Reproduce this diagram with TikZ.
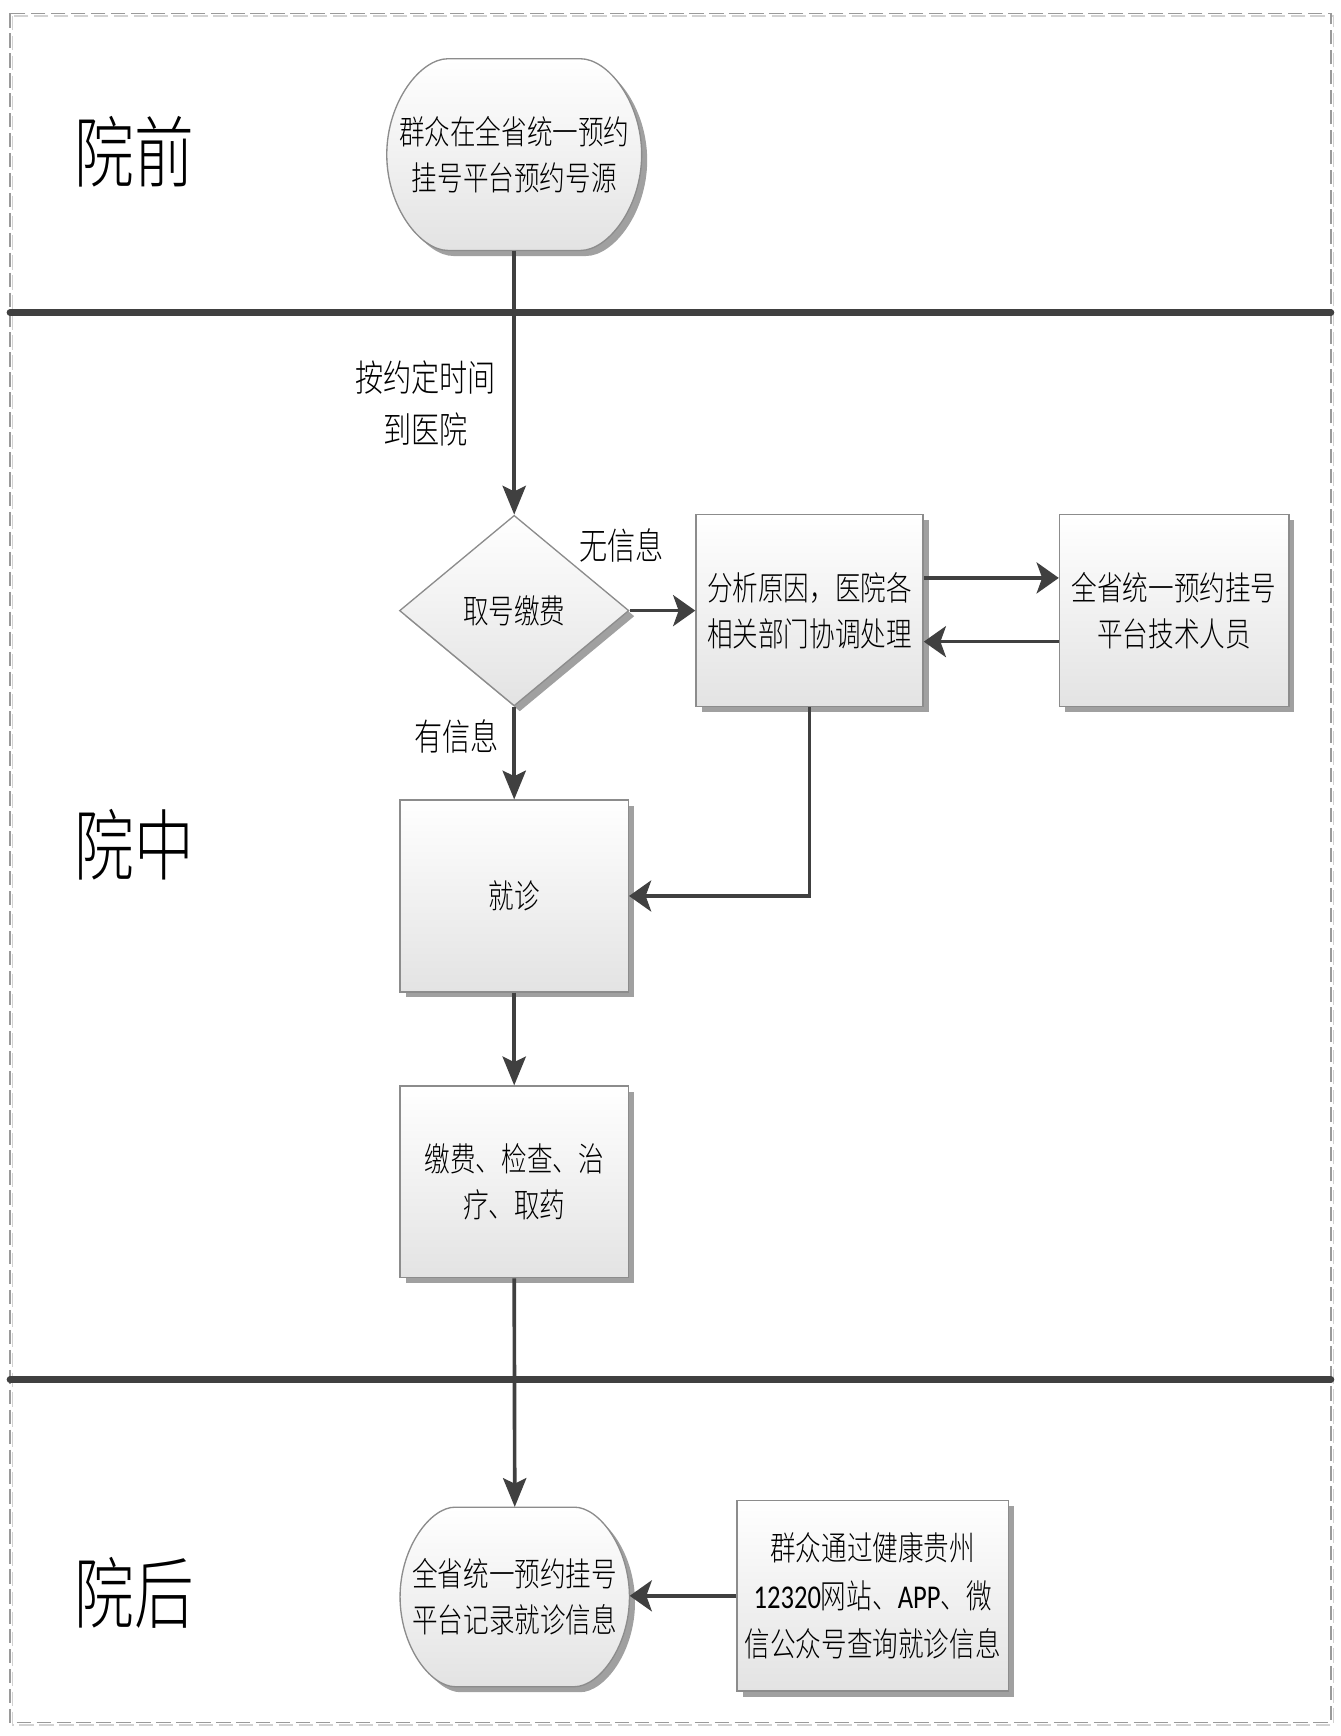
\documentclass[tikz,border=0pt]{standalone}
\usepackage{fontspec}
\usetikzlibrary{arrows.meta,shapes.geometric,shadows}
\newfontfamily\cjk[FakeStretch=0.77,UprightFont={* Light}]{Noto Sans CJK SC}
\newfontfamily\latinfont[FakeStretch=0.8]{Carlito}
\newcommand\mybodyfont{\cjk\fontsize{30}{42}\selectfont}
\newcommand\mylanefont{\cjk\fontsize{70}{80}\selectfont}
\newcommand\mylabelfont{\cjk\fontsize{33}{47}\selectfont}
\definecolor{linegray}{HTML}{404040}
\definecolor{edgegray}{HTML}{8C8C8C}
\definecolor{shadegray}{HTML}{A0A0A0}
\definecolor{dashdark}{HTML}{9A9A9A}
\definecolor{dashlight}{HTML}{D2D2D2}
\tikzset{
  shapelook/.style={draw=edgegray, line width=1.2pt, top color=white, bottom color=black!11,
    drop shadow={shadow xshift=5pt, shadow yshift=-5pt, fill=shadegray, opacity=1}},
  flowbox/.style={shapelook, minimum width=206pt, minimum height=173pt, inner sep=0pt,
    align=center, font=\mybodyfont},
  decide/.style={flowbox, shape=diamond, minimum width=207pt, minimum height=172pt},
  termtext/.style={inner sep=0pt, align=center, font=\mybodyfont},
  conn/.style={draw=linegray, line width=3.3pt},
  varrow/.style={conn, -{Stealth[length=26pt,width=21pt,inset=5pt]}},
  harrow/.style={conn, -{Stealth[length=20pt,width=28pt,inset=5pt]}},
  lanelabel/.style={font=\mylanefont, inner sep=0pt},
  edgelabel/.style={font=\mylabelfont, align=center, inner sep=0pt},
  separator/.style={draw=linegray, line width=6pt, line cap=round},
}
\newcommand\drawbarrel[4]{%
  \pgfmathsetmacro\brW{#3}%
  \pgfmathsetmacro\brH{#4}%
  \pgfmathsetmacro\brF{0.52*#3}%
  \pgfmathsetmacro\brC{\brF+0.45*0.48*#3}%
  \pgfmathsetmacro\brK{0.55*#4}%
  \begin{scope}[shift={(#1,#2)}]
    \path[shapelook] (-\brF,-\brH) -- (\brF,-\brH)
      .. controls (\brC,-\brH) and (\brW,-\brK) .. (\brW,0)
      .. controls (\brW,\brK) and (\brC,\brH) .. (\brF,\brH)
      -- (-\brF,\brH)
      .. controls (-\brC,\brH) and (-\brW,\brK) .. (-\brW,0)
      .. controls (-\brW,-\brK) and (-\brC,-\brH) .. (-\brF,-\brH) -- cycle;
  \end{scope}}
\begin{document}
\begin{tikzpicture}[x=1pt,y=-1pt]
\useasboundingbox (0,0) rectangle (1210,1566.5);
% outer dashed frame
\draw[dashlight, line width=1.2pt, dash pattern=on 13pt off 5pt] (11.5,14.5) rectangle (1203.5,1556.5);
\draw[dashdark, line width=1.2pt, dash pattern=on 13pt off 5pt] (9,12) rectangle (1201,1554);
% lane separators
\draw[separator] (9,282) -- (1201,282);
\draw[separator] (9,1245) -- (1201,1245);
% lane labels
\node[lanelabel] (lanepre) at (121,137) {院前};
\node[lanelabel] (lanemid) at (121,762) {院中};
\node[lanelabel] (lanepost) at (121,1437) {院后};
% terminators
\drawbarrel{464}{139.5}{115}{86.5}
\node[termtext, minimum width=230pt, minimum height=173pt] (start) at (464,139.5) {群众在全省统一预约\\挂号平台预约号源};
\drawbarrel{464.5}{1441}{103.5}{81}
\node[termtext, minimum width=207pt, minimum height=162pt] (record) at (464.5,1441) {全省统一预约挂号\\平台记录就诊信息};
% process nodes
\node[decide] (fee) at (464,551) {取号缴费};
\node[flowbox, minimum width=205pt] (analyse) at (730.5,551) {分析原因，医院各\\相关部门协调处理};
\node[flowbox, minimum width=207pt] (tech) at (1059.5,551) {全省统一预约挂号\\平台技术人员};
\node[flowbox] (visit) at (464,808.5) {就诊};
\node[flowbox] (treat) at (464,1066.5) {缴费、检查、治\\疗、取药};
\node[flowbox, minimum width=245pt, minimum height=172pt, font=\cjk\fontsize{30}{43.5}\selectfont] (query) at (787.5,1440)
  {群众通过健康贵州\\{\latinfont 12320}网站、{\latinfont APP}、微\\信公众号查询就诊信息};
% edge labels
\node[edgelabel] (lbltime) at (384,364) {按约定时间\\到医院};
\node[edgelabel] (lblnone) at (561,492) {无信息};
\node[edgelabel] (lblhas) at (412,665) {有信息};
% connectors
\draw[varrow] (start.south) -- (fee.north);
\draw[harrow] (fee.east) -- (analyse.west);
\draw[harrow] ([yshift=29.5pt]analyse.east) -- ([yshift=29.5pt]tech.west);
\draw[harrow] ([yshift=-28pt]tech.west) -- ([yshift=-28pt]analyse.east);
\draw[varrow] (fee.south) -- (visit.north);
\draw[harrow] (analyse.south) |- (visit.east);
\draw[varrow] (visit.south) -- (treat.north);
\draw[varrow] (treat.south) -- (record.north);
\draw[harrow] (query.west) -- (query.west -| record.east);
\end{tikzpicture}
\end{document}
